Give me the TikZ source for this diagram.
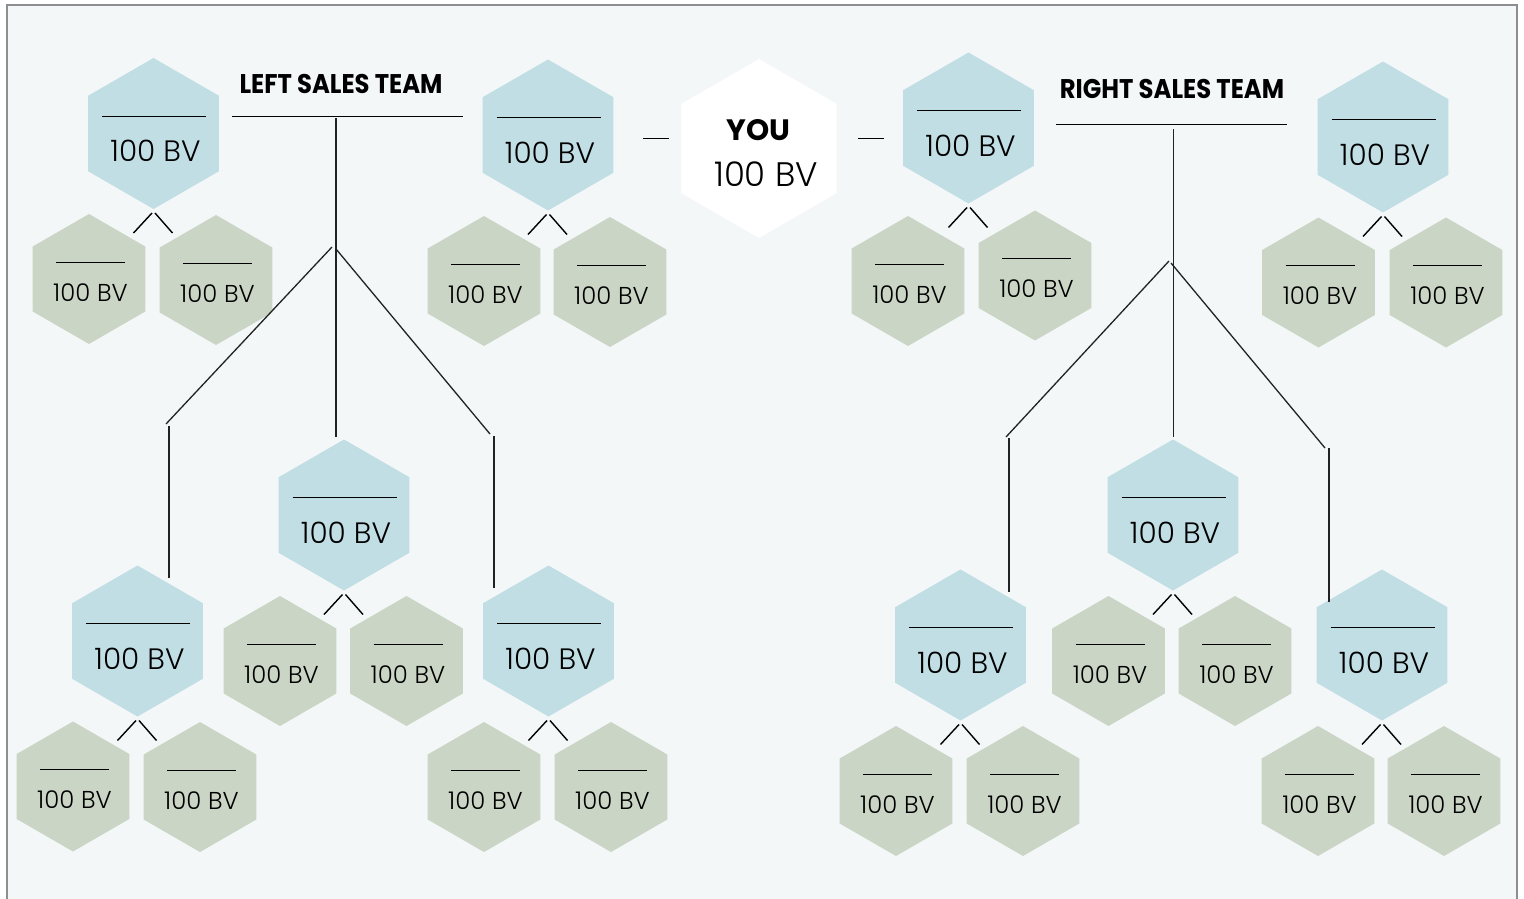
\documentclass[tikz,border=0pt]{standalone}
\usepackage{fontspec}
\setmainfont{Poppins}[UprightFont=* Light, BoldFont=* Bold]
\usepackage{graphicx}
\usetikzlibrary{shapes.geometric}
\definecolor{bgc}{HTML}{F3F7F8}
\definecolor{framec}{HTML}{8C8E90}
\definecolor{hexblue}{HTML}{C0DEE4}
\definecolor{hexgreen}{HTML}{CAD5C5}
\definecolor{treec}{HTML}{222222}
\tikzset{
  hexbase/.style={regular polygon, regular polygon sides=6, shape border rotate=30,
    inner sep=0pt, outer sep=0pt, draw=none},
  bhexs/.style={hexbase, minimum size=151pt, fill=hexblue},
  ghexs/.style={hexbase, minimum size=130pt, fill=hexgreen},
  yhexs/.style={hexbase, minimum size=179pt, fill=white},
  tline/.style={line width=1pt, draw=black},
  chev/.style={line width=1.4pt, draw=black},
  tree/.style={line width=1.3pt, draw=treec},
  bvb/.style={inner sep=0pt, font=\fontsize{29.5}{29.5}\selectfont},
  bvg/.style={inner sep=0pt, font=\fontsize{24.4}{24.4}\selectfont},
  bvy/.style={inner sep=0pt, font=\fontsize{34}{34}\selectfont},
  headt/.style={inner sep=0pt, font=\fontsize{27}{27}\selectfont\bfseries},
}
\newcommand{\hexB}[3]{%
  \node[bhexs] (#1) at (#2,#3) {};
  \draw[tline] ([xshift=-51.5pt,yshift=17.5pt]#1.center) -- ([xshift=52.5pt,yshift=17.5pt]#1.center);
  \node[bvb] (#1t) at ([xshift=2pt,yshift=-17.5pt]#1.center) {100 BV};
  \draw[chev] ([xshift=-20pt,yshift=-99.5pt]#1.center) -- ([xshift=-1.5pt,yshift=-79.5pt]#1.center);
  \draw[chev] ([xshift=1.5pt,yshift=-79.5pt]#1.center) -- ([xshift=19pt,yshift=-99.5pt]#1.center);
}
\newcommand{\hexG}[3]{%
  \node[ghexs] (#1) at (#2,#3) {};
  \draw[tline] ([xshift=-33pt,yshift=17pt]#1.center) -- ([xshift=36pt,yshift=17pt]#1.center);
  \node[bvg] (#1t) at ([xshift=1.5pt,yshift=-13.5pt]#1.center) {100 BV};
}
\begin{document}
\begin{tikzpicture}[x=1pt,y=-1pt]
\useasboundingbox (0,0) rectangle (1524,899);
\fill[white] (0,0) rectangle (1524,899);
\fill[bgc] (7,5) rectangle (1517,899);
\draw[framec, line width=2.5pt] (7,902) -- (7,5) -- (1517,5) -- (1517,902);

% YOU
\node[yhexs] (you) at (759,148.5) {};
\node[inner sep=0pt, font=\fontsize{29.5}{29.5}\selectfont\bfseries] (yout) at (758.5,130) {YOU};
\node[bvy] (youbv) at (766,174.5) {100 BV};
\coordinate (dl1) at (643,138); \coordinate (dl2) at (669,138);
\coordinate (dr1) at (858,138); \coordinate (dr2) at (884,138);
\draw[tline] (dl1) -- (dl2);
\draw[tline] (dr1) -- (dr2);

% headings
\node[headt] (lht) at (341,84) {\scalebox{0.9}[1]{LEFT SALES TEAM}};
\node[headt] (rht) at (1172,89) {\scalebox{0.9}[1]{RIGHT SALES TEAM}};
\coordinate (lu1) at (232,116); \coordinate (lu2) at (463,116);
\coordinate (ru1) at (1056,124); \coordinate (ru2) at (1287,124);
\draw[tline] (lu1) -- (lu2);
\draw[tline] (ru1) -- (ru2);

% blue hexes
\hexB{b1}{153.5}{133.5}
\hexB{b2}{548}{135}
\hexB{b6}{968.5}{128}
\hexB{b7}{1383}{137}
\hexB{b4}{344}{515}
\hexB{b8}{1173}{515}
\hexB{b3}{137.5}{641}
\hexB{b5}{548.5}{641}
\hexB{b9}{960.5}{645}
\hexB{b10}{1382}{645}

% green hexes
\hexG{g1a}{89}{279}     \hexG{g1b}{216}{280}
\hexG{g2a}{484}{281}    \hexG{g2b}{610}{282}
\hexG{g6a}{908}{281}    \hexG{g6b}{1035}{275.5}
\hexG{g7a}{1318.5}{282.5} \hexG{g7b}{1446}{282.5}
\hexG{g4a}{280}{661}    \hexG{g4b}{406.5}{661}
\hexG{g8a}{1108.5}{661} \hexG{g8b}{1235}{661}
\hexG{g3a}{73}{786.5}   \hexG{g3b}{200}{787}
\hexG{g5a}{484}{787}    \hexG{g5b}{611}{787}
\hexG{g9a}{896}{791}    \hexG{g9b}{1023}{791}
\hexG{g10a}{1318}{791}  \hexG{g10b}{1444}{791}

% left tree
\coordinate (lt0) at (336,118);  \coordinate (lt1) at (336,437);
\coordinate (ll0) at (332,247);  \coordinate (ll1) at (166,424);
\coordinate (ll2) at (169,426);  \coordinate (ll3) at (169,578);
\coordinate (lr0) at (336,249);  \coordinate (lr1) at (490,434);
\coordinate (lr2) at (494,436);  \coordinate (lr3) at (494,588);
\draw[tree] (lt0) -- (lt1);
\draw[tree] (ll0) -- (ll1);
\draw[tree] (ll2) -- (ll3);
\draw[tree] (lr0) -- (lr1);
\draw[tree] (lr2) -- (lr3);

% right tree
\coordinate (rt0) at (1173.5,129); \coordinate (rt1) at (1173.5,437);
\coordinate (rl0) at (1169,261);   \coordinate (rl1) at (1006,437);
\coordinate (rl2) at (1009,438);   \coordinate (rl3) at (1009,592);
\coordinate (rr0) at (1171,263);   \coordinate (rr1) at (1325,448);
\coordinate (rr2) at (1329,448);   \coordinate (rr3) at (1329,602);
\draw[tree] (rt0) -- (rt1);
\draw[tree] (rl0) -- (rl1);
\draw[tree] (rl2) -- (rl3);
\draw[tree] (rr0) -- (rr1);
\draw[tree] (rr2) -- (rr3);
\end{tikzpicture}
\end{document}
